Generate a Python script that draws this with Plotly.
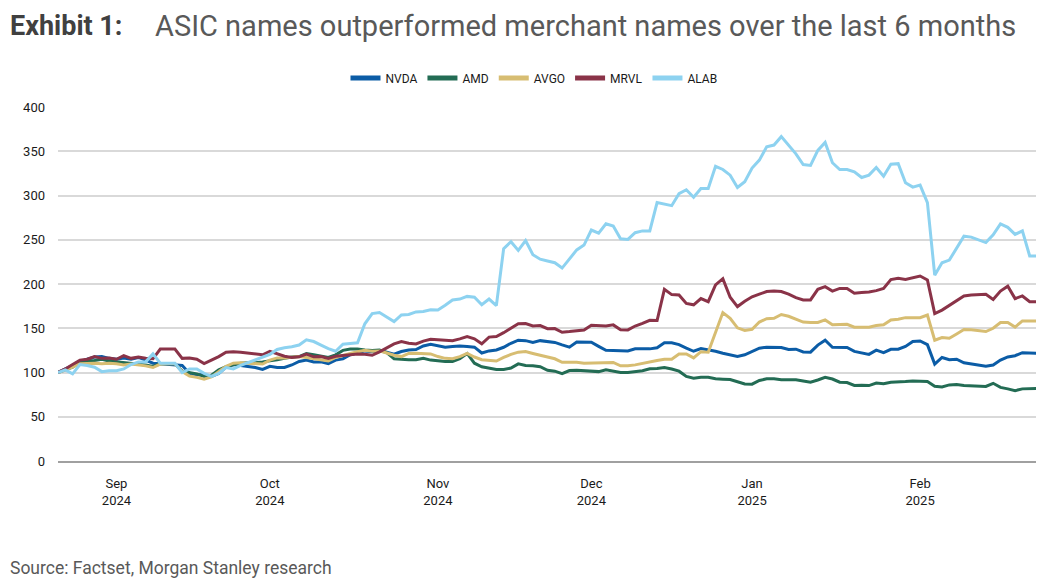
import pandas as pd
import plotly.graph_objects as go

# ---- data (weekday series, rebased to 100) ----
start_date = "2024-08-21"
end_date = "2025-02-25"
dates = [d.strftime("%Y-%m-%d") for d in pd.bdate_range(start_date, end_date)]

tick_dates = ["2024-09-02", "2024-10-01", "2024-11-01", "2024-12-02", "2025-01-01", "2025-02-03"]
tick_labels = ["Sep<br>2024", "Oct<br>2024", "Nov<br>2024", "Dec<br>2024", "Jan<br>2025", "Feb<br>2025"]

nvda = [100, 104, 108, 112, 115, 117.5, 118, 116, 115, 116.5,
        115, 117, 114, 110.5, 110, 109.5, 109, 108, 99, 97.5,
        97.5, 95.5, 99, 106, 109, 108, 107, 105.6, 103.5, 107,
        105.6, 105.6, 108.5, 112.5, 114, 112, 112, 110, 114, 115.5,
        120, 122.5, 124.4, 123.5, 124.4, 123, 120.7, 123.7, 125.5, 126,
        130, 132, 130, 128.6, 129.5, 130, 129.5, 128.6, 122, 124.4,
        125.5, 128.5, 133, 136.5, 136, 134, 136, 135, 134, 131.2,
        128.6, 134.5, 134.5, 134.2, 129.5, 125, 124.8, 124.4, 124.4, 126.7,
        126.7, 126.7, 128, 133.5, 133.5, 131.5, 127.5, 124, 127, 125.6,
        124, 121.8, 120, 118.2, 120, 123.5, 127.5, 128.6, 128.3, 128.2,
        126, 126.3, 123.2, 123, 131, 136.5, 128.5, 128.2, 128.2, 123.8,
        122, 120.5, 125.3, 122.5, 126.2, 126.3, 129.5, 135, 135.7, 131.5,
        109.5, 117, 114.5, 115, 111, 109.6, 108.5, 107, 108.4, 114,
        117.6, 119, 122.4, 121.8, 121.8]

amd = [100, 103, 106, 111.5, 113, 113.5, 115, 113, 112, 111,
       110, 109.8, 108.5, 106.8, 109.8, 109.8, 109.8, 101.5, 100, 98.5,
       95.5, 97, 103, 106.5, 108.6, 110.5, 111, 111, 112, 113,
       114.5, 116, 117.5, 118, 121.4, 120, 118.4, 117, 120, 125,
       126.5, 126.5, 125.5, 125, 125.5, 122.5, 115.5, 114.5, 114.3, 114.3,
       116, 114, 113, 112.5, 112.4, 115.5, 121.5, 110.5, 106.5, 105,
       103.5, 103.5, 105, 109.8, 108, 107.5, 106.5, 102.5, 101.5, 98.7,
       102.2, 102.5, 102, 101, 101, 103, 101.5, 100, 100, 101,
       102, 104.3, 104.5, 105.6, 104, 101.5, 95.5, 93.6, 94.7, 94.7,
       93, 92.5, 92, 89.5, 87, 86.8, 91, 92.8, 92.9, 91.8,
       92, 91.7, 90.5, 89, 91.5, 94.5, 92.6, 89, 88.7, 85.4,
       85.7, 85.2, 88, 87.3, 89, 89, 89.8, 90.5, 89.8, 89.8,
       84.5, 83.6, 86, 86.5, 85.4, 85, 84.5, 84.2, 87.8, 83.2,
       81.5, 79.5, 81.5, 81.8, 82]

avgo = [100, 103, 106, 110, 110.5, 110.5, 110, 110.5, 110, 108.6,
        109.5, 108.6, 107.5, 105.6, 109.5, 109.8, 109.8, 101, 96, 94.5,
        92.5, 95, 101, 107, 110.5, 111, 110.5, 110, 109.5, 114,
        116.5, 116.5, 117.5, 118, 117, 115.8, 114.7, 113, 117, 119.5,
        121.4, 123.5, 125, 124, 124.4, 122, 119.5, 118, 121.5, 121.8,
        121, 121, 118, 116, 115.6, 118, 121.5, 117.5, 114.5, 113.5,
        113, 117, 120.5, 123, 123.7, 121.5, 119.5, 117, 115.5, 111.5,
        112, 111.7, 110.5, 110.5, 110.5, 111.3, 111.3, 107.5, 107.5, 108.6,
        110.5, 112.4, 113.5, 115, 115, 121, 121, 116.5, 123.5, 123,
        146, 167.7, 161.3, 150.5, 147.5, 148.8, 157, 160.8, 161.3, 165.5,
        163.5, 160, 157, 156.4, 156.6, 159.4, 154, 154.3, 154.5, 151.2,
        151.1, 151.2, 153, 154, 159.4, 160.2, 162, 162, 162, 165,
        136.5, 139.5, 138.7, 143.5, 148.5, 148.2, 147.5, 146.3, 150, 156.5,
        156.4, 151.3, 158.3, 158.3, 158.3]

mrvl = [100, 104, 109, 114, 115, 118, 116, 116.5, 115, 119,
        116, 117.5, 116, 115.5, 126.5, 126.5, 126.5, 116, 116.5, 115,
        110, 114, 118, 123, 123.5, 123, 122, 121, 120, 124,
        121.4, 118.4, 117, 117.7, 120.7, 117.7, 118, 116, 118.4, 119.5,
        120.7, 121, 120.7, 119.5, 123.3, 128, 132.3, 135, 133, 132.3,
        135.5, 137.5, 137, 136, 136, 138, 140.5, 138, 132.5, 140,
        140.6, 145, 150, 155, 155.3, 152.6, 153, 149.5, 149.6, 145.5,
        146.2, 147, 148.1, 153.5, 153.2, 152.6, 153.8, 148.2, 148.1, 152.5,
        155.5, 159, 158.7, 194, 188, 187.6, 178, 176.5, 183.5, 180,
        199, 206, 185, 174.5, 180.5, 185.5, 188.5, 191.5, 192, 191.5,
        188.5, 184.5, 182, 182, 194, 197, 192, 195, 195, 189.5,
        190.5, 191, 192.5, 195, 205, 206.4, 205, 207, 209, 204.5,
        166.5, 170.5, 175.5, 181, 186.5, 187.5, 187.6, 188.3, 182.5, 192,
        197.5, 183.5, 186.5, 180, 180]

alab = [100, 103, 98.5, 109, 108, 106, 101, 102, 102, 104,
        109, 112, 112, 121, 110.5, 110.5, 110.5, 100, 104, 104,
        99, 95.5, 99, 105.6, 104, 108, 111, 114, 117, 120.5,
        126, 128, 129, 131, 137, 135, 131, 127, 124, 132,
        132.7, 133.5, 155, 166.6, 167.7, 163, 157.5, 165, 165.5, 168.5,
        169, 171, 170.7, 176, 182, 183, 186, 185, 176.5, 183,
        175.5, 240, 247.8, 238, 249, 233, 228, 226, 224, 218,
        228.5, 238.5, 244, 261, 257.5, 268, 265.4, 251, 250.4, 258,
        260, 260, 292, 290.5, 288.5, 302, 306.5, 298, 308, 308,
        333, 329.4, 323, 309, 315.6, 331, 340, 355, 357, 366.5,
        357, 347, 335, 334, 351, 360, 337, 329.4, 329.4, 326.7,
        320.3, 323, 331.6, 321.8, 335.4, 336, 314.5, 309.5, 311.7, 292,
        210, 224, 227, 241, 254, 253, 249.6, 246.8, 255.5, 268,
        264, 256, 260, 231.6, 231.6]

series_names = ["NVDA", "AMD", "AVGO", "MRVL", "ALAB"]
series_values = [nvda, amd, avgo, mrvl, alab]
series_colors = ["#0B5CA6", "#236C54", "#D7BD72", "#8A3348", "#8DD2F0"]

y_ticks = [0, 50, 100, 150, 200, 250, 300, 350, 400]

# ---- figure (page has an 8px body margin, so the figure is offset by 8px) ----
OFF = 8
W, H = 1044 - OFF, 580 - OFF
# desired plot area in page pixels: x 58..1037, y 107..461
ML = 58 - OFF
MR = W - (1037 - OFF)
MT = 107 - OFF
MB = H - (461 - OFF)
PW, PH = W - ML - MR, H - MT - MB


def px_x(page_px):
    return (page_px - OFF - ML) / PW


def px_y(page_py):
    return 1 - (page_py - OFF - MT) / PH


fig = go.Figure()
for name, vals, col in zip(series_names, series_values, series_colors):
    fig.add_trace(go.Scatter(x=dates, y=vals, name=name, mode="lines",
                             line=dict(color=col, width=3)))

fig.update_layout(
    width=W, height=H,
    margin=dict(l=ML, r=MR, t=MT, b=MB, autoexpand=False),
    paper_bgcolor="white", plot_bgcolor="white",
    font=dict(family="Roboto, Arial, sans-serif", color="#404040"),
    showlegend=True,
    legend=dict(orientation="h", x=px_x(534), xanchor="center",
                y=px_y(78), yanchor="middle",
                font=dict(size=12, color="#1a1a1a"),
                itemwidth=30, tracegroupgap=0, itemsizing="constant",
                bgcolor="rgba(0,0,0,0)"),
)

fig.update_xaxes(
    type="category", range=[0, len(dates) - 1],
    tickmode="array", tickvals=tick_dates, ticktext=tick_labels,
    showgrid=False, ticks="", ticklabelstandoff=9,
    tickfont=dict(size=13, color="#1a1a1a"),
    showline=True, linecolor="#A0A0A0", linewidth=2,
)
fig.update_yaxes(
    range=[0, 400], tickmode="array", tickvals=y_ticks,
    showgrid=True, gridcolor="#D9D9D9", gridwidth=1.5,
    zeroline=False, ticks="", ticklabelstandoff=12,
    tickfont=dict(size=13, color="#1a1a1a"),
)

fig.add_annotation(text="<b>Exhibit 1:</b>", xref="paper", yref="paper",
                   x=px_x(8), y=px_y(26), xanchor="left", yanchor="middle",
                   showarrow=False, font=dict(size=27, color="#404040"))
fig.add_annotation(text="ASIC names outperformed merchant names over the last 6 months",
                   xref="paper", yref="paper",
                   x=px_x(153), y=px_y(26), xanchor="left", yanchor="middle",
                   showarrow=False, font=dict(size=29, color="#595959"))
fig.add_annotation(text="Source: Factset, Morgan Stanley research",
                   xref="paper", yref="paper",
                   x=px_x(8), y=px_y(568), xanchor="left", yanchor="middle",
                   showarrow=False, font=dict(size=17.5, color="#595959"))

fig.write_html("out.html")
